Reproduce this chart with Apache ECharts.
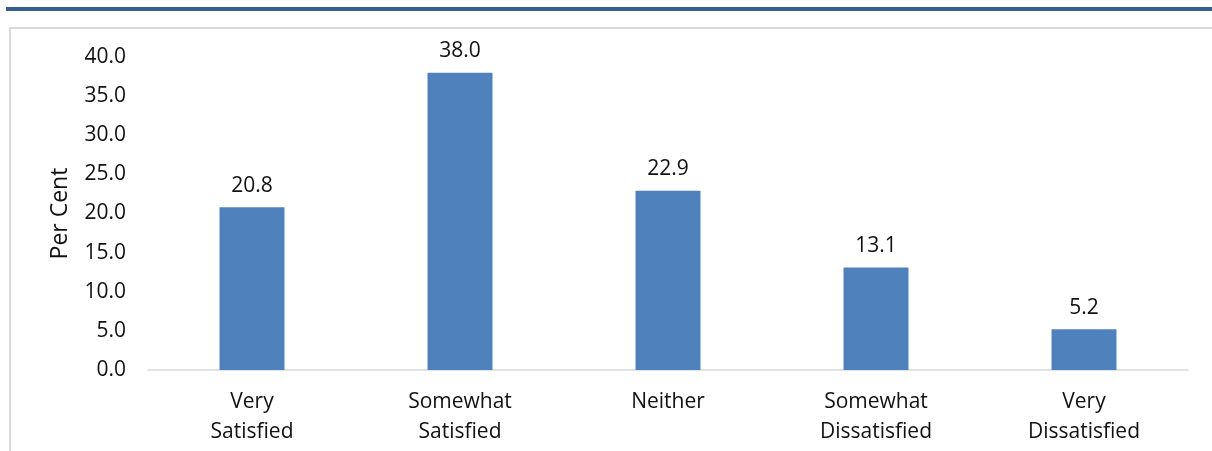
<!DOCTYPE html>
<html>
<head>
<meta charset="utf-8">
<script src="https://cdn.jsdelivr.net/npm/echarts@6/dist/echarts.min.js"></script>
<style>
html,body{margin:0;padding:0;background:#fff;}
#chart{width:1212px;height:451px;}
</style>
</head>
<body>
<div id="chart"></div>
<script>
const categories = ["Very\nSatisfied", "Somewhat\nSatisfied", "Neither", "Somewhat\nDissatisfied", "Very\nDissatisfied"];
const values = [20.8, 38.0, 22.9, 13.1, 5.2];
const yTicks = [0, 5, 10, 15, 20, 25, 30, 35, 40];
const yAxisTitle = "Per Cent";

const FONT = "'Open Sans', 'Noto Sans', sans-serif";
const chart = echarts.init(document.getElementById('chart'), null, {renderer: 'canvas'});
chart.setOption({
  animation: false,
  backgroundColor: '#ffffff',
  graphic: [
    {type: 'rect', shape: {x: 6, y: 7, width: 1206, height: 4}, style: {fill: '#34608f'}, silent: true},
    {type: 'rect', shape: {x: 10, y: 28, width: 1300, height: 500}, style: {fill: 'none', stroke: '#dadada', lineWidth: 2}, silent: true}
  ],
  grid: {left: 148, right: 24, top: 57, bottom: 81, containLabel: false},
  xAxis: {
    type: 'category',
    data: categories,
    axisLine: {show: true, lineStyle: {color: '#d9d9d9', width: 1.5}},
    axisTick: {show: false},
    axisLabel: {color: '#111111', fontFamily: FONT, fontSize: 21, lineHeight: 30, margin: 17, interval: 0}
  },
  yAxis: {
    type: 'value',
    min: yTicks[0],
    max: yTicks[yTicks.length - 1],
    interval: yTicks[1] - yTicks[0],
    name: yAxisTitle,
    nameLocation: 'middle',
    nameGap: 76,
    nameTextStyle: {color: '#111111', fontFamily: FONT, fontSize: 23},
    axisLine: {show: false},
    axisTick: {show: false},
    splitLine: {show: false},
    axisLabel: {color: '#111111', fontFamily: FONT, fontSize: 21, margin: 22, formatter: v => v.toFixed(1)}
  },
  series: [{
    type: 'bar',
    data: values,
    barWidth: 65,
    itemStyle: {color: '#4f81bd'},
    label: {show: true, position: 'top', distance: 11, color: '#111111', fontFamily: FONT, fontSize: 21, formatter: p => p.value.toFixed(1)}
  }]
});
</script>
</body>
</html>
